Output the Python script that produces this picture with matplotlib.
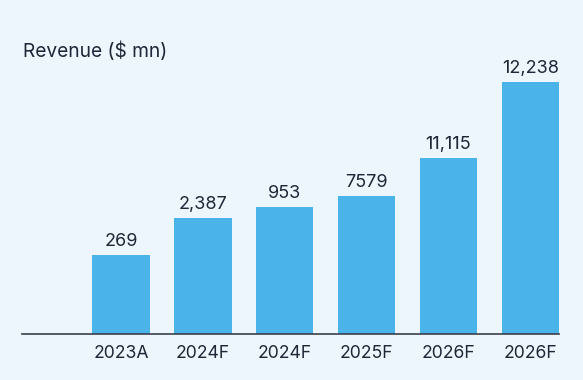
import matplotlib
matplotlib.use("Agg")
import matplotlib.pyplot as plt

plt.rcParams['font.family'] = ['Inter', 'DejaVu Sans']

# data (bar heights as drawn, labels as printed)
years = ["2023A", "2024F", "2024F", "2025F", "2026F", "2026F"]
bar_heights = [79, 116, 127, 138, 176, 252]
value_labels = ["269", "2,387", "953", "7579", "11,115", "12,238"]

bg = "#EEF6FD"
bar_color = "#4AB4EA"
text_color = "#1E2638"

fig = plt.figure(figsize=(5.83, 3.80), dpi=100, facecolor=bg)
ax = fig.add_axes([22 / 583, 46.3 / 380, 537 / 583, 260 / 380])
ax.set_facecolor(bg)

x = list(range(len(years)))
bars = ax.bar(x, bar_heights, width=0.7, color=bar_color, zorder=2)

for b, lab in zip(bars, value_labels):
    ax.text(b.get_x() + b.get_width() / 2, b.get_height() + 5, lab,
            ha="center", va="bottom", fontsize=13, color=text_color)

ax.set_xlim(-1.21, 5.35)
ax.set_ylim(0, 260)
ax.set_xticks(x)
ax.set_xticklabels(years, fontsize=12.7, color=text_color)
ax.tick_params(axis="x", length=0, pad=8)
ax.set_yticks([])

for s in ["top", "right", "left"]:
    ax.spines[s].set_visible(False)
ax.spines["bottom"].set_color("#3A3F4A")
ax.spines["bottom"].set_linewidth(1.2)
ax.spines["bottom"].set_zorder(3)

fig.text(23 / 583, 1 - 51 / 380, "Revenue ($ mn)", ha="left", va="center",
         fontsize=13.8, color=text_color)

fig.savefig("out.png", dpi=100, facecolor=bg)
